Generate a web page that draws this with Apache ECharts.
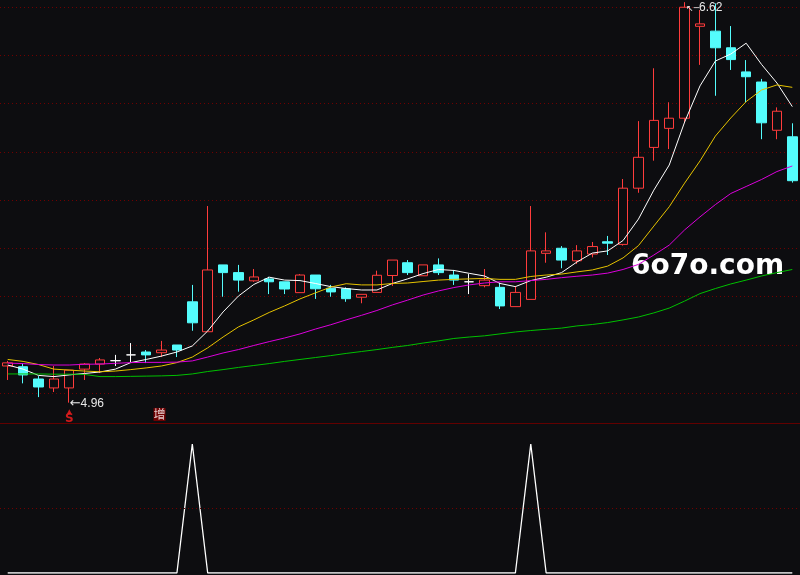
<!DOCTYPE html>
<html><head><meta charset="utf-8">
<script src="https://cdn.jsdelivr.net/npm/echarts@6/dist/echarts.min.js"></script>
<style>html,body{margin:0;padding:0;background:#0d0d10;}#c{width:800px;height:575px;}</style>
</head><body><div id="c"></div>
<script>
// ---- data ----
const categories = ['1','2','3','4','5','6','7','8','9','10','11','12','13','14','15','16','17','18','19','20','21','22','23','24','25','26','27','28','29','30','31','32','33','34','35','36','37','38','39','40','41','42','43','44','45','46','47','48','49','50','51','52'];
const open  = [5.112,5.109,5.058,5.021,5.021,5.099,5.120,5.134,5.158,5.170,5.167,5.199,5.378,5.254,5.531,5.499,5.465,5.473,5.461,5.416,5.489,5.434,5.432,5.397,5.417,5.487,5.540,5.486,5.531,5.489,5.461,5.445,5.438,5.358,5.388,5.579,5.600,5.548,5.576,5.627,5.616,5.849,6.018,6.097,6.139,6.520,6.500,6.431,6.331,6.289,6.089,6.062];
const close = [5.125,5.075,5.025,5.058,5.095,5.120,5.137,5.134,5.158,5.158,5.178,5.178,5.291,5.510,5.499,5.468,5.481,5.461,5.431,5.489,5.432,5.419,5.391,5.409,5.488,5.551,5.499,5.531,5.499,5.468,5.461,5.468,5.361,5.417,5.589,5.589,5.551,5.589,5.607,5.621,5.849,5.977,6.130,6.139,6.599,6.530,6.431,6.382,6.311,6.120,6.168,5.880];
const high  = [5.133,5.123,5.070,5.112,5.095,5.124,5.145,5.158,5.207,5.178,5.216,5.199,5.448,5.775,5.531,5.531,5.514,5.482,5.461,5.493,5.489,5.448,5.438,5.409,5.507,5.551,5.551,5.531,5.558,5.510,5.493,5.514,5.457,5.444,5.775,5.666,5.609,5.613,5.626,5.651,5.887,6.127,6.346,6.205,6.620,6.588,6.615,6.521,6.380,6.302,6.184,6.118];
const low   = [5.054,5.040,4.983,5.004,4.960,5.054,5.083,5.112,5.128,5.124,5.149,5.149,5.258,5.254,5.399,5.420,5.461,5.410,5.410,5.416,5.390,5.399,5.378,5.372,5.417,5.444,5.489,5.486,5.489,5.448,5.410,5.438,5.348,5.358,5.388,5.540,5.517,5.535,5.562,5.572,5.611,5.830,5.963,6.011,6.120,6.360,6.232,6.339,6.205,6.052,6.052,5.872];
const ma5   = [5.116,5.099,5.073,5.068,5.075,5.081,5.087,5.099,5.126,5.139,5.153,5.170,5.195,5.257,5.336,5.402,5.450,5.480,5.468,5.466,5.454,5.441,5.433,5.427,5.427,5.454,5.473,5.495,5.512,5.508,5.496,5.485,5.454,5.441,5.466,5.480,5.499,5.543,5.580,5.589,5.632,5.721,5.841,5.945,6.123,6.273,6.376,6.405,6.450,6.362,6.285,6.187];
const ma10  = [5.139,5.131,5.118,5.099,5.095,5.091,5.088,5.091,5.097,5.104,5.112,5.126,5.149,5.187,5.232,5.274,5.303,5.334,5.361,5.390,5.415,5.439,5.453,5.448,5.448,5.454,5.456,5.462,5.468,5.471,5.473,5.475,5.471,5.471,5.483,5.489,5.493,5.502,5.510,5.526,5.560,5.611,5.692,5.772,5.870,5.962,6.065,6.140,6.208,6.256,6.277,6.267];
const ma20  = [5.124,5.122,5.118,5.116,5.116,5.119,5.120,5.123,5.126,5.127,5.127,5.128,5.133,5.149,5.166,5.180,5.197,5.213,5.228,5.245,5.265,5.283,5.303,5.322,5.342,5.365,5.385,5.406,5.423,5.437,5.448,5.456,5.461,5.461,5.466,5.471,5.478,5.484,5.489,5.497,5.512,5.533,5.572,5.613,5.676,5.730,5.781,5.827,5.856,5.885,5.918,5.941];
const ma60  = [5.079,5.079,5.079,5.078,5.078,5.077,5.068,5.068,5.069,5.070,5.071,5.073,5.079,5.089,5.097,5.106,5.114,5.122,5.131,5.139,5.147,5.155,5.164,5.172,5.180,5.189,5.197,5.207,5.216,5.226,5.232,5.237,5.245,5.253,5.259,5.264,5.269,5.278,5.284,5.292,5.303,5.315,5.332,5.352,5.381,5.412,5.433,5.452,5.468,5.485,5.499,5.512];
const indicator = [0,0,0,0,0,0,0,0,0,0,0,0,1,0,0,0,0,0,0,0,0,0,0,0,0,0,0,0,0,0,0,0,0,0,1,0,0,0,0,0,0,0,0,0,0,0,0,0,0,0,0,0];
const priceTickStep = 0.2;      // dotted price grid every 0.20
const indicatorLevels = [0.5];  // dotted level in the lower panel
const signalS = [4];
const signalZeng = [10];

// ---- layout / style constants ----
const PRICE_MIN = 4.8, PRICE_MAX = 6.62902, SIG_Y = 4.907;
const PX_PER_UNIT = 241.25;
const MAIN_H = (PRICE_MAX - PRICE_MIN) * PX_PER_UNIT;
const BG = '#0d0d10', RED = '#ff3c3c', CYAN = '#54fcfc';
const DOT = {color: '#700000', type: [1, 3], width: 1};

const chart = echarts.init(document.getElementById('c'), null, {renderer: 'canvas'});
const hidden = {axisTick: {show: false}, axisLabel: {show: false}};
chart.setOption({
  backgroundColor: BG,
  animation: false,
  grid: [
    {left: 0, top: 0, width: 801, height: MAIN_H},
    {left: 0, top: 423, width: 801, height: 150}
  ],
  xAxis: [
    Object.assign({type: 'category', data: categories, gridIndex: 0, boundaryGap: true,
      axisLine: {show: false}, splitLine: {show: false}}, hidden),
    Object.assign({type: 'category', data: categories, gridIndex: 1, boundaryGap: true, position: 'top',
      axisLine: {show: true, onZero: false, lineStyle: {color: '#620000', width: 1}},
      splitLine: {show: false}}, hidden)
  ],
  yAxis: [
    Object.assign({type: 'value', gridIndex: 0, min: PRICE_MIN, max: PRICE_MAX, interval: priceTickStep,
      axisLine: {show: false},
      splitLine: {show: true, showMinLine: false, showMaxLine: false, lineStyle: DOT}}, hidden),
    Object.assign({type: 'value', gridIndex: 1, min: 0, max: 150 / 129,
      axisLine: {show: false}, splitLine: {show: false}}, hidden)
  ],
  graphic: [{
    type: 'text', left: 631, top: 253, silent: true,
    style: {text: '6o7o.com', fill: '#ffffff', font: 'bold 28px "DejaVu Sans"'}
  }],
  series: [
    {
      type: 'candlestick', xAxisIndex: 0, yAxisIndex: 0, barWidth: 10, z: 2,
      data: categories.map((_, i) => [open[i], close[i], low[i], high[i]]),
      itemStyle: {color: BG, color0: CYAN, borderColor: RED, borderColor0: CYAN,
        borderColorDoji: '#ffffff', borderWidth: 1},
      markPoint: {
        silent: true, symbol: 'circle', symbolSize: 1, itemStyle: {color: 'rgba(0,0,0,0)'},
        data: [
          {type: 'max', valueDim: 'highest',
            label: {show: true, position: 'right', distance: 0, offset: [1, 6],
              formatter: p => '{a|↖─}{b|' + Number(p.value).toFixed(2) + '}',
              rich: {a: {fontSize: 9, color: '#e8e8e8', fontFamily: 'DejaVu Sans'},
                     b: {fontSize: 12, color: '#e8e8e8', fontFamily: 'Liberation Sans'}}}},
          {type: 'min', valueDim: 'lowest',
            label: {show: true, position: 'right', distance: 0, offset: [0, 1],
              formatter: p => '{a|←}{b|' + Number(p.value).toFixed(2) + '}',
              rich: {a: {fontSize: 13, color: '#e8e8e8', fontFamily: 'DejaVu Sans'},
                     b: {fontSize: 12, color: '#e8e8e8', fontFamily: 'Liberation Sans'}}}}
        ]
      }
    },
    {type: 'line', data: ma5, symbol: 'none', lineStyle: {color: '#ffffff', width: 1}, z: 3, silent: true},
    {type: 'line', data: ma10, symbol: 'none', lineStyle: {color: '#e6c300', width: 1}, z: 3, silent: true},
    {type: 'line', data: ma20, symbol: 'none', lineStyle: {color: '#dc00dc', width: 1}, z: 3, silent: true},
    {type: 'line', data: ma60, symbol: 'none', lineStyle: {color: '#00c000', width: 1}, z: 3, silent: true},
    {
      type: 'scatter', symbol: 'circle', symbolSize: 1, itemStyle: {color: 'rgba(0,0,0,0)'}, silent: true,
      data: signalS.map(i => [i, SIG_Y]),
      label: {show: true, position: 'inside', offset: [0, 1], formatter: '{t|▲}\n{s|S}',
        rich: {t: {fontSize: 6, lineHeight: 4, color: '#ff1e1e', align: 'center', fontFamily: 'DejaVu Sans'},
               s: {fontSize: 12, lineHeight: 10, fontWeight: 'bold', color: '#ff1e1e', align: 'center', fontFamily: 'DejaVu Sans'}}}
    },
    {
      type: 'scatter', symbol: 'circle', symbolSize: 1, itemStyle: {color: 'rgba(0,0,0,0)'}, silent: true,
      data: signalZeng.map(i => [i, SIG_Y]),
      label: {show: true, position: 'inside', offset: [-2, -1], formatter: '增',
        fontSize: 12, lineHeight: 13, color: '#ffffff', backgroundColor: '#8c0000', padding: [0, 0, 0, 0],
        fontFamily: 'Noto Sans CJK SC'}
    },
    {
      type: 'line', xAxisIndex: 1, yAxisIndex: 1, data: indicator, symbol: 'none', silent: true,
      lineStyle: {color: '#ffffff', width: 1.3},
      markLine: {silent: true, symbol: ['none', 'none'], label: {show: false},
        lineStyle: DOT, emphasis: {disabled: true},
        data: indicatorLevels.map(v => ({yAxis: v}))}
    }
  ]
});
</script></body></html>
